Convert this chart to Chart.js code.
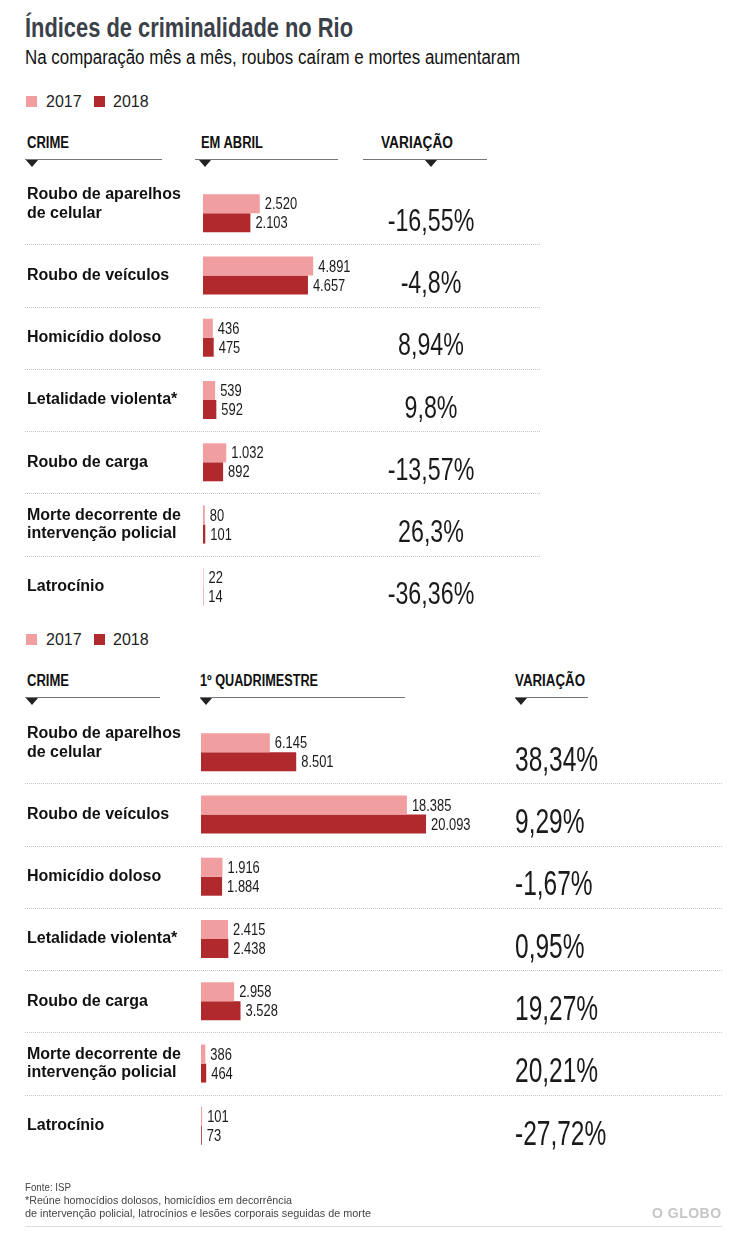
<!DOCTYPE html>
<html><head><meta charset="utf-8">
<script src="https://cdn.jsdelivr.net/npm/chart.js@4.4.1/dist/chart.umd.min.js"></script>
<style>
html,body{margin:0;padding:0;background:#fff;}
#page{position:relative;width:729px;height:1235px;overflow:hidden;font-family:'Liberation Sans',Arial,sans-serif;color:#111;}
.abs{position:absolute;white-space:nowrap;line-height:1;}
.title{left:25px;top:14px;font-size:28px;font-weight:bold;color:#3a4149;}
.sub{left:25px;top:47px;font-size:20px;color:#111;}
.leg{font-size:16px;color:#222;}
.sq{position:absolute;width:11px;height:11px;}
.hdr{font-size:16px;font-weight:bold;color:#111;}
.hl{position:absolute;height:1px;background:#777;}
.tri{position:absolute;width:0;height:0;border-left:6px solid transparent;border-right:6px solid transparent;border-top:7px solid #222;}
.foot{font-size:11px;color:#444;left:25px;}
canvas{position:absolute;left:0;}
</style></head>
<body><div id="page">
<div class="abs title" data-w="328">Índices de criminalidade no Rio</div>
<div class="abs sub" data-w="495">Na comparação mês a mês, roubos caíram e mortes aumentaram</div>

<div class="sq" style="left:26px;top:96px;background:#f19ea1"></div>
<div class="abs leg" style="left:46px;top:94px">2017</div>
<div class="sq" style="left:94px;top:96px;background:#b0292d"></div>
<div class="abs leg" style="left:113px;top:94px">2018</div>

<div class="abs hdr" data-w="42" style="left:27px;top:135px">CRIME</div>
<div class="hl" style="left:25px;top:159px;width:137px"></div>
<div class="tri" style="left:26px;top:160px"></div>
<div class="abs hdr" data-w="62" style="left:201px;top:135px">EM ABRIL</div>
<div class="hl" style="left:195px;top:159px;width:143px"></div>
<div class="tri" style="left:199px;top:160px"></div>
<div class="abs hdr" data-w="72" style="left:381px;top:135px">VARIAÇÃO</div>
<div class="hl" style="left:363px;top:159px;width:124px"></div>
<div class="tri" style="left:425px;top:160px"></div>

<div class="sq" style="left:26px;top:634px;background:#f19ea1"></div>
<div class="abs leg" style="left:46px;top:632px">2017</div>
<div class="sq" style="left:94px;top:634px;background:#b0292d"></div>
<div class="abs leg" style="left:113px;top:632px">2018</div>

<div class="abs hdr" data-w="42" style="left:27px;top:673px">CRIME</div>
<div class="hl" style="left:25px;top:697px;width:135px"></div>
<div class="tri" style="left:26px;top:698px"></div>
<div class="abs hdr" data-w="118" style="left:200px;top:673px">1º QUADRIMESTRE</div>
<div class="hl" style="left:200px;top:697px;width:205px"></div>
<div class="tri" style="left:200px;top:698px"></div>
<div class="abs hdr" data-w="70" style="left:515px;top:673px">VARIAÇÃO</div>
<div class="hl" style="left:515px;top:697px;width:73px"></div>
<div class="tri" style="left:515px;top:698px"></div>

<canvas id="c1" width="729" height="660" style="top:0"></canvas>
<canvas id="c2" width="729" height="615" style="top:620px"></canvas>

<div class="abs foot" data-w="46" style="top:1182px">Fonte: ISP</div>
<div class="abs foot" data-w="267" style="top:1195px">*Reúne homocídios dolosos, homicídios em decorrência</div>
<div class="abs foot" data-w="346" style="top:1208px">de intervenção policial, latrocínios e lesões corporais seguidas de morte</div>
<div class="abs" style="left:652px;top:1206px;font-weight:bold;font-size:14px;color:#c6c6c6;letter-spacing:0.5px">O GLOBO</div>
<div class="hl" style="left:25px;top:1226px;width:697px;background:#ddd"></div>
</div>
<script>
// ---- data ----
const crimeLabels = [
  ["Roubo de aparelhos", "de celular", ""],
  ["Roubo de veículos"],
  ["Homicídio doloso"],
  ["Letalidade violenta*"],
  ["Roubo de carga"],
  ["Morte decorrente de", "intervenção policial"],
  ["Latrocínio"]
];
const seriesYears = ["2017", "2018"];
const abril2017 = [2520, 4891, 436, 539, 1032, 80, 22];
const abril2018 = [2103, 4657, 475, 592, 892, 101, 14];
const abrilVariacao = ["-16,55%", "-4,8%", "8,94%", "9,8%", "-13,57%", "26,3%", "-36,36%"];
const quad2017 = [6145, 18385, 1916, 2415, 2958, 386, 101];
const quad2018 = [8501, 20093, 1884, 2438, 3528, 464, 73];
const quadVariacao = ["38,34%", "9,29%", "-1,67%", "0,95%", "19,27%", "20,21%", "-27,72%"];

// condense HTML texts to the reference widths
document.querySelectorAll('[data-w]').forEach(el => {
  const w = el.getBoundingClientRect().width;
  el.style.transformOrigin = 'left top';
  el.style.transform = 'scaleX(' + (parseFloat(el.dataset.w) / w) + ')';
});

const PINK = '#f19ea1', RED = '#b0292d';
const SANS = "'Liberation Sans',Arial,sans-serif";
function fmt(n){ return String(n).replace(/\B(?=(\d{3})+(?!\d))/g, '.'); }
function drawText(ctx, t, x, y, sx){
  ctx.save(); ctx.translate(x, y); ctx.scale(sx, 1); ctx.fillText(t, 0, 0); ctx.restore();
}

function makeDecor(cfg){
  return {
    id: 'decor',
    beforeDatasetsDraw(chart){
      const ctx = chart.ctx, ys = chart.scales.y;
      ctx.save();
      ctx.strokeStyle = '#c4c4c4'; ctx.lineWidth = 1; ctx.setLineDash([1, 1]);
      for (let i = 0; i < ys.ticks.length - 1; i++) {
        const y = Math.round((ys.getPixelForTick(i) + ys.getPixelForTick(i + 1)) / 2) + 0.5;
        ctx.beginPath(); ctx.moveTo(cfg.sepLeft, y); ctx.lineTo(cfg.sepRight, y); ctx.stroke();
      }
      ctx.restore();
    },
    afterDatasetsDraw(chart){
      const ctx = chart.ctx, ys = chart.scales.y;
      ctx.save();
      ctx.font = '17px ' + SANS; ctx.fillStyle = '#1a1a1a';
      ctx.textBaseline = 'middle'; ctx.textAlign = 'left';
      chart.data.datasets.forEach((ds, d) => {
        chart.getDatasetMeta(d).data.forEach((bar, i) => {
          drawText(ctx, fmt(ds.data[i]), bar.x + cfg.gap, bar.y + 1, 0.76);
        });
      });
      ctx.font = cfg.varFont; ctx.textAlign = cfg.varAlign; ctx.fillStyle = '#1a1a1a';
      cfg.variation.forEach((v, i) => {
        drawText(ctx, v, cfg.varX, ys.getPixelForTick(i) + cfg.varDy, cfg.varScale);
      });
      ctx.restore();
    }
  };
}

function makePanel(id, d17, d18, variation, cfg){
  return new Chart(document.getElementById(id), {
    type: 'bar',
    data: {
      labels: crimeLabels,
      datasets: [
        {label: seriesYears[0], data: d17, backgroundColor: PINK, categoryPercentage: cfg.catPct, barPercentage: 1},
        {label: seriesYears[1], data: d18, backgroundColor: RED, categoryPercentage: cfg.catPct, barPercentage: 1}
      ]
    },
    options: {
      indexAxis: 'y', responsive: false, animation: false, devicePixelRatio: 1,
      layout: {padding: {left: 27, right: cfg.padRight, top: cfg.padTop, bottom: cfg.padBottom}},
      scales: {
        x: {display: false, min: 0, max: cfg.xMax},
        y: {
          position: 'left',
          grid: {display: false}, border: {display: false},
          ticks: {crossAlign: 'far', padding: 0, color: '#111',
            font: {family: SANS, size: 16, weight: 'bold', lineHeight: 1.15}},
          afterFit(s){ s.width = cfg.axisWidth; s.paddingTop = 0; s.paddingBottom = 0; }
        }
      },
      plugins: {legend: {display: false}, tooltip: {enabled: false}}
    },
    plugins: [makeDecor({
      sepLeft: 25, sepRight: cfg.sepRight, gap: 5,
      varFont: cfg.varFont, varAlign: cfg.varAlign, varScale: cfg.varScale,
      varX: cfg.varX, varDy: cfg.varDy, variation: variation
    })]
  });
}

// panel 1: canvas top 0, height 660
makePanel('c1', abril2017, abril2018, abrilVariacao, {
  catPct: 0.61, padTop: 182, padBottom: 660 - 618, padRight: 188, axisWidth: 176,
  xMax: 15000, sepRight: 540, varFont: '31px ' + SANS, varScale: 0.75, varAlign: 'center', varX: 431, varDy: 9
});
// panel 2: canvas top 620, height 615
makePanel('c2', quad2017, quad2018, quadVariacao, {
  catPct: 0.61, padTop: 101, padBottom: 615 - 537, padRight: 24, axisWidth: 174,
  xMax: 45000, sepRight: 722, varFont: '35px ' + SANS, varScale: 0.7, varAlign: 'left', varX: 515, varDy: 9
});
</script>
</body></html>
